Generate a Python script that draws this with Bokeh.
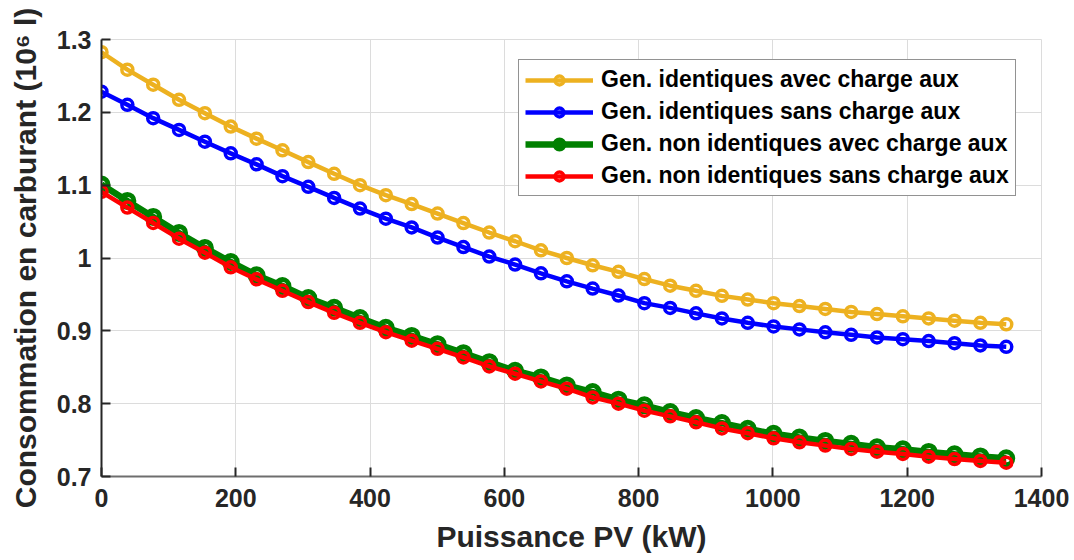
from bokeh.plotting import figure
from bokeh.models import FixedTicker, CustomJSTickFormatter, Legend, LegendItem
from bokeh.embed import file_html
from bokeh.resources import INLINE

# PV power (kW)
pv_kw = [0, 38.5, 77, 115.5, 154, 192.5, 231, 269.5, 308, 346.5, 385, 423.5,
         462, 500.5, 539, 577.5, 616, 654.5, 693, 731.5, 770, 808.5, 847, 885.5,
         924, 962.5, 1001, 1039.5, 1078, 1116.5, 1155, 1193.5, 1232, 1270.5, 1309, 1347.5]

ident_avec = [1.2825, 1.2586, 1.2379, 1.2172, 1.1989, 1.1804, 1.1639, 1.1479, 1.1317,
              1.1156, 1.1000, 1.0862, 1.0740, 1.0610, 1.0480, 1.0350, 1.0230, 1.0105,
              1.0000, 0.9900, 0.9810, 0.9710, 0.9620, 0.9550, 0.9480, 0.9430, 0.9380,
              0.9340, 0.9300, 0.9260, 0.9230, 0.9200, 0.9170, 0.9140, 0.9110, 0.9090]

ident_sans = [1.2283, 1.2103, 1.1920, 1.1759, 1.1597, 1.1437, 1.1286, 1.1124, 1.0977,
              1.0825, 1.0679, 1.0540, 1.0420, 1.0280, 1.0150, 1.0020, 0.9910, 0.9790,
              0.9680, 0.9580, 0.9485, 0.9380, 0.9315, 0.9240, 0.9170, 0.9110, 0.9060,
              0.9020, 0.8980, 0.8945, 0.8910, 0.8886, 0.8860, 0.8830, 0.8800, 0.8780]

nonident_avec = [1.1008, 1.0784, 1.0564, 1.0344, 1.0138, 0.9945, 0.9762, 0.9615, 0.9450,
                 0.9316, 0.9175, 0.9041, 0.8930, 0.8816, 0.8693, 0.8570, 0.8452, 0.8360,
                 0.8251, 0.8159, 0.8055, 0.7977, 0.7885, 0.7803, 0.7733, 0.7655, 0.7586,
                 0.7535, 0.7489, 0.7448, 0.7401, 0.7373, 0.7337, 0.7304, 0.7276, 0.7249]

nonident_sans = [1.0908, 1.0692, 1.0481, 1.0265, 1.0073, 0.9872, 0.9707, 0.9550, 0.9395,
                 0.9247, 0.9110, 0.8982, 0.8865, 0.8753, 0.8634, 0.8511, 0.8411, 0.8305,
                 0.8205, 0.8086, 0.8000, 0.7904, 0.7826, 0.7744, 0.7660, 0.7594, 0.7525,
                 0.7470, 0.7424, 0.7378, 0.7341, 0.7309, 0.7272, 0.7240, 0.7213, 0.7189]

labels = ["Gen. identiques avec charge aux",
          "Gen. identiques sans charge aux",
          "Gen. non identiques avec charge aux",
          "Gen. non identiques sans charge aux"]
colors = ["#EDB120", "#0000FF", "#008000", "#FF0000"]

x_ticks = [0, 200, 400, 600, 800, 1000, 1200, 1400]
y_ticks = [0.7, 0.8, 0.9, 1.0, 1.1, 1.2, 1.3]

FONT = "Liberation Sans"

p = figure(width=1074, height=560, output_backend="svg", toolbar_location=None,
           x_range=(0, 1400), y_range=(0.7, 1.3),
           min_border_left=101, min_border_right=33, min_border_top=39, min_border_bottom=84)
p.background_fill_color = "white"
p.border_fill_color = "white"
p.outline_line_color = "#DCDCDC"

series = [ident_avec, ident_sans, nonident_avec, nonident_sans]
styles = [(4.5, 11, 3.5), (4.5, 11, 3.5), (6.5, 13, 5), (4.5, 11, 3.5)]
items = []
for ys, col, lab, (lw, ms, mlw) in zip(series, colors, labels, styles):
    r1 = p.line(pv_kw, ys, line_color=col, line_width=lw)
    r2 = p.scatter(pv_kw, ys, marker="circle", size=ms, line_color=col,
                   line_width=mlw, fill_color=None)
    items.append(LegendItem(label=lab, renderers=[r1, r2]))

legend = Legend(items=items, location=(417, 280))
legend.label_text_font = FONT
legend.label_text_font_style = "bold"
legend.label_text_font_size = "23px"
legend.label_text_color = "black"
legend.glyph_width = 68
legend.glyph_height = 22
legend.label_height = 22
legend.spacing = 5
legend.padding = 6
legend.margin = 0
legend.label_standoff = 8
legend.border_line_color = "#262626"
legend.border_line_width = 1
legend.background_fill_color = "white"
legend.background_fill_alpha = 1
p.add_layout(legend, "center")

# grids
p.xgrid.ticker = FixedTicker(ticks=x_ticks)
p.ygrid.ticker = FixedTicker(ticks=y_ticks)
for g in (p.xgrid, p.ygrid):
    g.grid_line_color = "#DCDCDC"
    g.grid_line_width = 1

# axes
p.xaxis.ticker = FixedTicker(ticks=x_ticks)
p.yaxis.ticker = FixedTicker(ticks=y_ticks)
p.yaxis.formatter = CustomJSTickFormatter(code="return tick.toFixed(1).replace(/\\.0$/, '');")
for ax in (p.xaxis, p.yaxis):
    ax.major_tick_in = 9
    ax.major_tick_out = 0
    ax.minor_tick_line_color = None
    ax.major_tick_line_color = "#262626"
    ax.major_tick_line_width = 2
    ax.major_label_text_font = FONT
    ax.major_label_text_font_style = "bold"
    ax.major_label_text_font_size = "25px"
    ax.major_label_text_color = "#262626"
    ax.axis_label_text_font = FONT
    ax.axis_label_text_font_style = "bold"
    ax.axis_label_text_color = "#262626"
p.yaxis.axis_line_color = "#262626"
p.yaxis.axis_line_width = 2
p.xaxis.axis_line_color = "#6E6E6E"
p.xaxis.axis_line_width = 2
p.xaxis.major_label_standoff = 12
p.yaxis.major_label_standoff = 10
p.xaxis.axis_label = "Puissance PV (kW)"
p.yaxis.axis_label = "Consommation en carburant (10\u2076 l)"
p.xaxis.axis_label_text_font_size = "30px"
p.yaxis.axis_label_text_font_size = "30px"
p.xaxis.axis_label_standoff = 10
p.yaxis.axis_label_standoff = 12

open("out.html", "w").write(file_html(p, INLINE))
